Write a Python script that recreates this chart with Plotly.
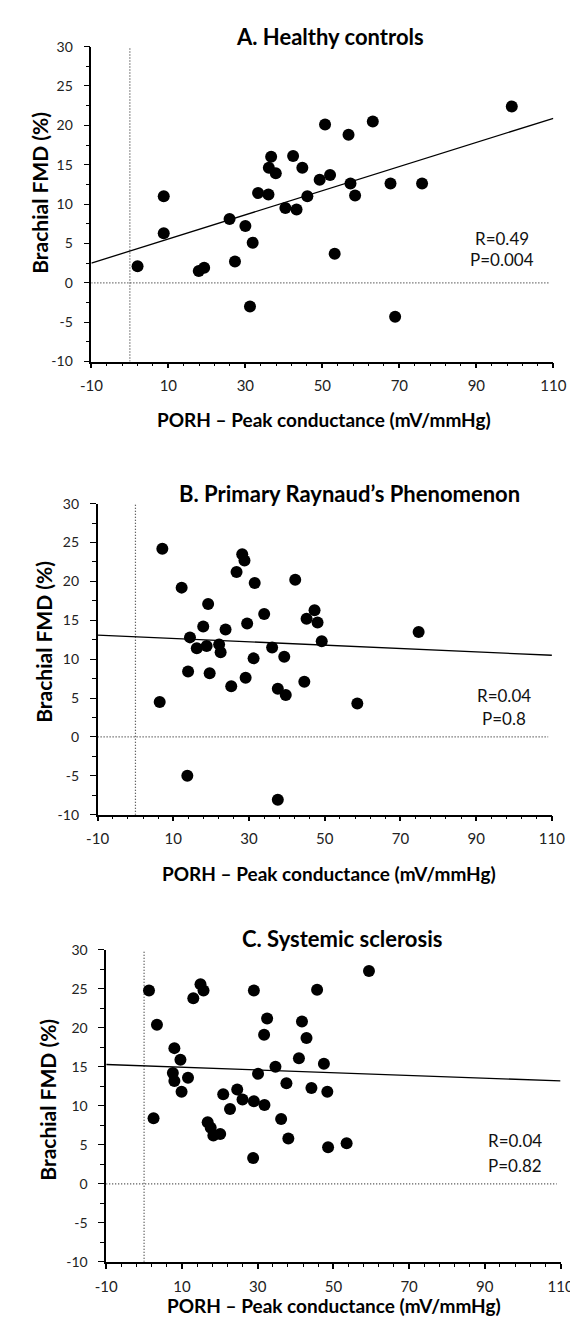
import plotly.graph_objects as go

# ---------------- data ----------------
A_x = [2.0, 8.8, 8.8, 17.9, 19.3, 25.9, 27.3, 30.0, 31.2, 31.9, 33.3, 36.1, 36.0, 36.7, 37.9, 40.4,
       42.4, 43.3, 44.8, 46.1, 49.3, 50.7, 52.0, 53.2, 56.8, 57.3, 58.5, 63.1, 67.7, 68.9, 75.9, 99.2]
A_y = [2.1, 11.0, 6.3, 1.5, 1.9, 8.1, 2.7, 7.2, -3.0, 5.1, 11.4, 14.6, 11.2, 16.0, 13.9, 9.5,
       16.1, 9.3, 14.6, 11.0, 13.1, 20.1, 13.7, 3.7, 18.8, 12.6, 11.1, 20.5, 12.6, -4.3, 12.6, 22.4]

B_x = [7.1, 28.2, 28.8, 26.7, 31.5, 12.2, 42.2, 19.2, 34.0, 47.3, 45.2, 48.1, 29.5, 17.9, 23.8, 14.4,
       49.2, 16.2, 18.8, 22.1, 22.5, 36.1, 31.2, 39.3, 13.9, 19.6, 29.1, 25.3, 37.6, 39.7, 44.6, 6.4,
       58.6, 13.7, 37.6, 74.8]
B_y = [24.2, 23.5, 22.7, 21.2, 19.8, 19.2, 20.2, 17.1, 15.8, 16.3, 15.2, 14.7, 14.6, 14.2, 13.8, 12.8,
       12.3, 11.4, 11.7, 11.9, 10.9, 11.5, 10.1, 10.3, 8.4, 8.2, 7.6, 6.5, 6.2, 5.4, 7.1, 4.5,
       4.3, -5.0, -8.1, 13.5]

C_x = [1.3, 3.4, 2.5, 8.0, 9.6, 7.6, 8.0, 9.9, 11.6, 13.0, 14.9, 15.7, 20.9, 22.7, 24.6, 26.0,
       29.0, 29.0, 31.8, 30.1, 31.7, 32.5, 34.7, 37.6, 36.2, 40.9, 41.7, 42.9, 44.2, 45.7, 47.5, 48.4,
       16.8, 17.6, 18.3, 20.1, 28.8, 38.1, 48.6, 53.5, 59.4]
C_y = [24.8, 20.4, 8.4, 17.4, 15.9, 14.2, 13.2, 11.8, 13.6, 23.8, 25.6, 24.8, 11.5, 9.6, 12.1, 10.8,
       10.6, 24.8, 10.1, 14.1, 19.1, 21.2, 15.0, 12.9, 8.3, 16.1, 20.8, 18.7, 12.3, 24.9, 15.4, 11.8,
       7.9, 7.2, 6.2, 6.4, 3.3, 5.8, 4.7, 5.2, 27.3]

# regression line endpoints
fit_x = [-10, 110]
A_fit = [2.5, 20.9]
B_fit = [13.1, 10.5]
C_fit = [15.3, 13.2]

titles = ["A. Healthy controls", "B. Primary Raynaud\u2019s Phenomenon", "C. Systemic sclerosis"]
stats = [("R=0.49", "P=0.004"), ("R=0.04", "P=0.8"), ("R=0.04", "P=0.82")]
x_title = "PORH \u2013 Peak conductance (mV/mmHg)"
y_title = "Brachial FMD (%)"
x_ticks = [-10, 10, 30, 50, 70, 90, 110]
y_ticks = [30, 25, 20, 15, 10, 5, 0, -5, -10]
y_ticklabels = ["30", "25", "20", "15", "10", "5", "0", "-5", "-10"]

# ---------------- layout helpers ----------------
W, H = 578, 1324
FONT = "Lato, Carlito, Calibri, Arial, sans-serif"

def px(x):
    return x / W

def py(y):
    return 1 - y / H

# pixel boxes: (left, right, top, bottom)
boxes = [(75.5, 557.5, 30, 349), (82, 556, 493, 808), (91, 565, 945, 1261)]
title_pos = [(324, 20), (345, 483), (337, 933)]
xt_pos = [(318, 408), (323, 868), (329, 1305)]
yt_pos = [(22, 178), (26, 633), (30, 1097)]
stat_pos = [(504, 224, 246), (506, 687, 711), (518, 1138, 1163)]

DOT = "1px,2px"

fig = go.Figure()
series = [(A_x, A_y, A_fit), (B_x, B_y, B_fit), (C_x, C_y, C_fit)]
annotations = []
layout = {}

for i, (xs, ys, fit) in enumerate(series):
    n = "" if i == 0 else str(i + 1)
    xa, ya = "x" + n, "y" + n
    # reference dotted lines
    fig.add_trace(go.Scatter(x=[0, 0], y=[-10, 30], mode="lines", xaxis=xa, yaxis=ya,
                             line=dict(color="#333", width=1.2, dash=DOT), hoverinfo="skip"))
    fig.add_trace(go.Scatter(x=[-10, 109], y=[0, 0], mode="lines", xaxis=xa, yaxis=ya,
                             line=dict(color="#333", width=1.2, dash=DOT), hoverinfo="skip"))
    # regression line
    fig.add_trace(go.Scatter(x=fit_x, y=fit, mode="lines", xaxis=xa, yaxis=ya,
                             line=dict(color="black", width=1.3), hoverinfo="skip"))
    # points
    fig.add_trace(go.Scatter(x=xs, y=ys, mode="markers", xaxis=xa, yaxis=ya,
                             marker=dict(color="black", size=12, line=dict(width=0))))

    l, r, t, b = boxes[i]
    layout["xaxis" + n] = dict(
        domain=[px(l), px(r)], range=[-10, 110], anchor=ya,
        tickmode="array", tickvals=x_ticks, ticktext=[str(v) for v in x_ticks],
        ticks="outside", ticklen=5, tickwidth=1.5, tickcolor="black",
        minor=dict(dtick=4, tick0=-10, ticks="outside", ticklen=3, tickcolor="black", tickwidth=1),
        showline=True, linecolor="black", linewidth=1.5, showgrid=False, zeroline=False,
        tickfont=dict(family=FONT, size=15, color="#222"), ticklabelstandoff=5,
        fixedrange=True,
    )
    layout["yaxis" + n] = dict(
        domain=[py(b), py(t)], range=[-10, 30], anchor=xa,
        tickmode="array", tickvals=y_ticks, ticktext=y_ticklabels,
        ticks="outside", ticklen=6, tickwidth=1.2, tickcolor="black",
        minor=dict(dtick=2.5, tick0=0, ticks="outside", ticklen=4, tickcolor="black", tickwidth=1),
        showline=True, linecolor="black", linewidth=1.5, showgrid=False, zeroline=False,
        tickfont=dict(family=FONT, size=14, color="#222"), ticklabelstandoff=8,
        fixedrange=True,
    )
    tx, ty = title_pos[i]
    annotations.append(dict(text="<b>" + titles[i] + "</b>", x=px(tx), y=py(ty), xref="paper", yref="paper",
                            showarrow=False, xanchor="center", yanchor="middle",
                            font=dict(family=FONT, size=22, color="black")))
    xx, xy = xt_pos[i]
    annotations.append(dict(text="<b>" + x_title + "</b>", x=px(xx), y=py(xy), xref="paper", yref="paper",
                            showarrow=False, xanchor="center", yanchor="middle",
                            font=dict(family=FONT, size=19, color="black")))
    yx, yy = yt_pos[i]
    annotations.append(dict(text="<b>" + y_title + "</b>", x=px(yx), y=py(yy), xref="paper", yref="paper",
                            showarrow=False, xanchor="center", yanchor="middle", textangle=-90,
                            font=dict(family=FONT, size=21, color="black")))
    sx, sy1, sy2 = stat_pos[i]
    for txt, sy in zip(stats[i], (sy1, sy2)):
        annotations.append(dict(text=txt, x=px(sx), y=py(sy), xref="paper", yref="paper",
                                showarrow=False, xanchor="center", yanchor="middle",
                                font=dict(family=FONT, size=17, color="#111")))

fig.update_layout(
    width=W, height=H, margin=dict(l=0, r=0, t=0, b=0),
    paper_bgcolor="white", plot_bgcolor="white",
    showlegend=False, hovermode=False,
    annotations=annotations,
    **layout,
)

fig.write_html("out.html")
